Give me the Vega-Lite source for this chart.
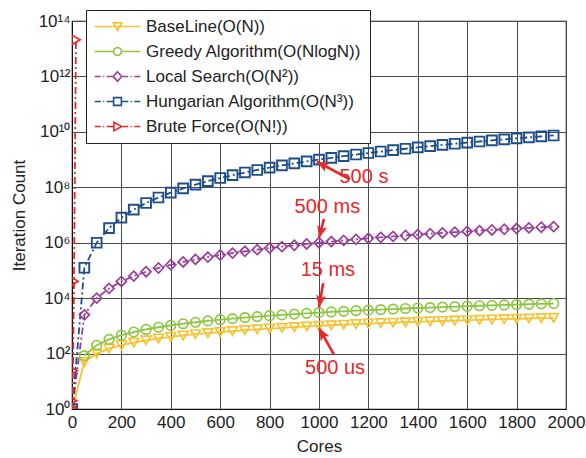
{
  "$schema": "https://vega.github.io/schema/vega-lite/v6.json",
  "width": 494,
  "height": 388,
  "autosize": "none",
  "padding": {"left": 72, "top": 21, "right": 20, "bottom": 49},
  "background": "white",
  "config": {
    "font": "Liberation Sans",
    "view": {"stroke": "#111", "strokeWidth": 1.2},
    "axis": {
      "labelFont": "Liberation Sans", "labelFontSize": 17, "labelColor": "#222",
      "titleFont": "Liberation Sans", "titleFontSize": 17, "titleFontWeight": "normal", "titleColor": "#222",
      "domainColor": "#111", "gridColor": "#4a4a4a", "gridOpacity": 1, "gridWidth": 1,
      "ticks": false
    },
    "legend": {
      "orient": "none", "legendX": 14, "legendY": -11, "title": null,
      "labelFont": "Liberation Sans", "labelFontSize": 17, "labelColor": "#222", "labelLimit": 0,
      "symbolSize": 144, "symbolStrokeWidth": 1.6, "symbolOffset": 15, "labelOffset": 20,
      "symbolOpacity": 1, "symbolFillColor": "transparent", "symbolDash": [1, 0],
      "strokeColor": "#222", "fillColor": "white", "padding": 8, "rowPadding": 7
    }
  },
  "datasets": {
    "arrows": [
      {"label": "500 s", "cores": 1125, "count": 195000000, "cores2": 991, "count2": 840000000},
      {"label": "500 ms", "cores": 1020, "count": 7200000, "cores2": 1000, "count2": 1480000},
      {"label": "15 ms", "cores": 1017, "count": 34400, "cores2": 1000, "count2": 4680},
      {"label": "500 us", "cores": 1061, "count": 89, "cores2": 1001, "count2": 817}
    ]
  },
  "data": {"values": [
    {"alg": "BaseLine(O(N))", "cores": 1, "count": 1},
    {"alg": "BaseLine(O(N))", "cores": 50, "count": 50},
    {"alg": "BaseLine(O(N))", "cores": 100, "count": 100},
    {"alg": "BaseLine(O(N))", "cores": 150, "count": 150},
    {"alg": "BaseLine(O(N))", "cores": 200, "count": 200},
    {"alg": "BaseLine(O(N))", "cores": 250, "count": 250},
    {"alg": "BaseLine(O(N))", "cores": 300, "count": 300},
    {"alg": "BaseLine(O(N))", "cores": 350, "count": 350},
    {"alg": "BaseLine(O(N))", "cores": 400, "count": 400},
    {"alg": "BaseLine(O(N))", "cores": 450, "count": 450},
    {"alg": "BaseLine(O(N))", "cores": 500, "count": 500},
    {"alg": "BaseLine(O(N))", "cores": 550, "count": 550},
    {"alg": "BaseLine(O(N))", "cores": 600, "count": 600},
    {"alg": "BaseLine(O(N))", "cores": 650, "count": 650},
    {"alg": "BaseLine(O(N))", "cores": 700, "count": 700},
    {"alg": "BaseLine(O(N))", "cores": 750, "count": 750},
    {"alg": "BaseLine(O(N))", "cores": 800, "count": 800},
    {"alg": "BaseLine(O(N))", "cores": 850, "count": 850},
    {"alg": "BaseLine(O(N))", "cores": 900, "count": 900},
    {"alg": "BaseLine(O(N))", "cores": 950, "count": 950},
    {"alg": "BaseLine(O(N))", "cores": 1000, "count": 1000},
    {"alg": "BaseLine(O(N))", "cores": 1050, "count": 1050},
    {"alg": "BaseLine(O(N))", "cores": 1100, "count": 1100},
    {"alg": "BaseLine(O(N))", "cores": 1150, "count": 1150},
    {"alg": "BaseLine(O(N))", "cores": 1200, "count": 1200},
    {"alg": "BaseLine(O(N))", "cores": 1250, "count": 1250},
    {"alg": "BaseLine(O(N))", "cores": 1300, "count": 1300},
    {"alg": "BaseLine(O(N))", "cores": 1350, "count": 1350},
    {"alg": "BaseLine(O(N))", "cores": 1400, "count": 1400},
    {"alg": "BaseLine(O(N))", "cores": 1450, "count": 1450},
    {"alg": "BaseLine(O(N))", "cores": 1500, "count": 1500},
    {"alg": "BaseLine(O(N))", "cores": 1550, "count": 1550},
    {"alg": "BaseLine(O(N))", "cores": 1600, "count": 1600},
    {"alg": "BaseLine(O(N))", "cores": 1650, "count": 1650},
    {"alg": "BaseLine(O(N))", "cores": 1700, "count": 1700},
    {"alg": "BaseLine(O(N))", "cores": 1750, "count": 1750},
    {"alg": "BaseLine(O(N))", "cores": 1800, "count": 1800},
    {"alg": "BaseLine(O(N))", "cores": 1850, "count": 1850},
    {"alg": "BaseLine(O(N))", "cores": 1900, "count": 1900},
    {"alg": "BaseLine(O(N))", "cores": 1950, "count": 1950},
    {"alg": "Greedy Algorithm(O(NlogN))", "cores": 50, "count": 84.95},
    {"alg": "Greedy Algorithm(O(NlogN))", "cores": 100, "count": 200},
    {"alg": "Greedy Algorithm(O(NlogN))", "cores": 150, "count": 326.4},
    {"alg": "Greedy Algorithm(O(NlogN))", "cores": 200, "count": 460.2},
    {"alg": "Greedy Algorithm(O(NlogN))", "cores": 250, "count": 599.5},
    {"alg": "Greedy Algorithm(O(NlogN))", "cores": 300, "count": 743.1},
    {"alg": "Greedy Algorithm(O(NlogN))", "cores": 350, "count": 890.4},
    {"alg": "Greedy Algorithm(O(NlogN))", "cores": 400, "count": 1040.8},
    {"alg": "Greedy Algorithm(O(NlogN))", "cores": 450, "count": 1193.9},
    {"alg": "Greedy Algorithm(O(NlogN))", "cores": 500, "count": 1349.5},
    {"alg": "Greedy Algorithm(O(NlogN))", "cores": 550, "count": 1507.2},
    {"alg": "Greedy Algorithm(O(NlogN))", "cores": 600, "count": 1666.9},
    {"alg": "Greedy Algorithm(O(NlogN))", "cores": 650, "count": 1828.4},
    {"alg": "Greedy Algorithm(O(NlogN))", "cores": 700, "count": 1991.6},
    {"alg": "Greedy Algorithm(O(NlogN))", "cores": 750, "count": 2156.3},
    {"alg": "Greedy Algorithm(O(NlogN))", "cores": 800, "count": 2322.5},
    {"alg": "Greedy Algorithm(O(NlogN))", "cores": 850, "count": 2490.0},
    {"alg": "Greedy Algorithm(O(NlogN))", "cores": 900, "count": 2658.8},
    {"alg": "Greedy Algorithm(O(NlogN))", "cores": 950, "count": 2828.8},
    {"alg": "Greedy Algorithm(O(NlogN))", "cores": 1000, "count": 3000},
    {"alg": "Greedy Algorithm(O(NlogN))", "cores": 1050, "count": 3172.3},
    {"alg": "Greedy Algorithm(O(NlogN))", "cores": 1100, "count": 3345.5},
    {"alg": "Greedy Algorithm(O(NlogN))", "cores": 1150, "count": 3519.8},
    {"alg": "Greedy Algorithm(O(NlogN))", "cores": 1200, "count": 3695.0},
    {"alg": "Greedy Algorithm(O(NlogN))", "cores": 1250, "count": 3871.1},
    {"alg": "Greedy Algorithm(O(NlogN))", "cores": 1300, "count": 4048.1},
    {"alg": "Greedy Algorithm(O(NlogN))", "cores": 1350, "count": 4226.0},
    {"alg": "Greedy Algorithm(O(NlogN))", "cores": 1400, "count": 4404.6},
    {"alg": "Greedy Algorithm(O(NlogN))", "cores": 1450, "count": 4584.0},
    {"alg": "Greedy Algorithm(O(NlogN))", "cores": 1500, "count": 4764.1},
    {"alg": "Greedy Algorithm(O(NlogN))", "cores": 1550, "count": 4945.0},
    {"alg": "Greedy Algorithm(O(NlogN))", "cores": 1600, "count": 5126.6},
    {"alg": "Greedy Algorithm(O(NlogN))", "cores": 1650, "count": 5308.8},
    {"alg": "Greedy Algorithm(O(NlogN))", "cores": 1700, "count": 5491.8},
    {"alg": "Greedy Algorithm(O(NlogN))", "cores": 1750, "count": 5675.3},
    {"alg": "Greedy Algorithm(O(NlogN))", "cores": 1800, "count": 5859.5},
    {"alg": "Greedy Algorithm(O(NlogN))", "cores": 1850, "count": 6044.3},
    {"alg": "Greedy Algorithm(O(NlogN))", "cores": 1900, "count": 6229.6},
    {"alg": "Greedy Algorithm(O(NlogN))", "cores": 1950, "count": 6415.6},
    {"alg": "Local Search(O(N²))", "cores": 1, "count": 1},
    {"alg": "Local Search(O(N²))", "cores": 50, "count": 2500},
    {"alg": "Local Search(O(N²))", "cores": 100, "count": 10000},
    {"alg": "Local Search(O(N²))", "cores": 150, "count": 22500},
    {"alg": "Local Search(O(N²))", "cores": 200, "count": 40000},
    {"alg": "Local Search(O(N²))", "cores": 250, "count": 62500},
    {"alg": "Local Search(O(N²))", "cores": 300, "count": 90000},
    {"alg": "Local Search(O(N²))", "cores": 350, "count": 122500},
    {"alg": "Local Search(O(N²))", "cores": 400, "count": 160000},
    {"alg": "Local Search(O(N²))", "cores": 450, "count": 202500},
    {"alg": "Local Search(O(N²))", "cores": 500, "count": 250000},
    {"alg": "Local Search(O(N²))", "cores": 550, "count": 302500},
    {"alg": "Local Search(O(N²))", "cores": 600, "count": 360000},
    {"alg": "Local Search(O(N²))", "cores": 650, "count": 422500},
    {"alg": "Local Search(O(N²))", "cores": 700, "count": 490000},
    {"alg": "Local Search(O(N²))", "cores": 750, "count": 562500},
    {"alg": "Local Search(O(N²))", "cores": 800, "count": 640000},
    {"alg": "Local Search(O(N²))", "cores": 850, "count": 722500},
    {"alg": "Local Search(O(N²))", "cores": 900, "count": 810000},
    {"alg": "Local Search(O(N²))", "cores": 950, "count": 902500},
    {"alg": "Local Search(O(N²))", "cores": 1000, "count": 1000000},
    {"alg": "Local Search(O(N²))", "cores": 1050, "count": 1102500},
    {"alg": "Local Search(O(N²))", "cores": 1100, "count": 1210000},
    {"alg": "Local Search(O(N²))", "cores": 1150, "count": 1322500},
    {"alg": "Local Search(O(N²))", "cores": 1200, "count": 1440000},
    {"alg": "Local Search(O(N²))", "cores": 1250, "count": 1562500},
    {"alg": "Local Search(O(N²))", "cores": 1300, "count": 1690000},
    {"alg": "Local Search(O(N²))", "cores": 1350, "count": 1822500},
    {"alg": "Local Search(O(N²))", "cores": 1400, "count": 1960000},
    {"alg": "Local Search(O(N²))", "cores": 1450, "count": 2102500},
    {"alg": "Local Search(O(N²))", "cores": 1500, "count": 2250000},
    {"alg": "Local Search(O(N²))", "cores": 1550, "count": 2402500},
    {"alg": "Local Search(O(N²))", "cores": 1600, "count": 2560000},
    {"alg": "Local Search(O(N²))", "cores": 1650, "count": 2722500},
    {"alg": "Local Search(O(N²))", "cores": 1700, "count": 2890000},
    {"alg": "Local Search(O(N²))", "cores": 1750, "count": 3062500},
    {"alg": "Local Search(O(N²))", "cores": 1800, "count": 3240000},
    {"alg": "Local Search(O(N²))", "cores": 1850, "count": 3422500},
    {"alg": "Local Search(O(N²))", "cores": 1900, "count": 3610000},
    {"alg": "Local Search(O(N²))", "cores": 1950, "count": 3802500},
    {"alg": "Hungarian Algorithm(O(N³))", "cores": 1, "count": 1},
    {"alg": "Hungarian Algorithm(O(N³))", "cores": 50, "count": 125000},
    {"alg": "Hungarian Algorithm(O(N³))", "cores": 100, "count": 1000000},
    {"alg": "Hungarian Algorithm(O(N³))", "cores": 150, "count": 3375000},
    {"alg": "Hungarian Algorithm(O(N³))", "cores": 200, "count": 8000000},
    {"alg": "Hungarian Algorithm(O(N³))", "cores": 250, "count": 15625000},
    {"alg": "Hungarian Algorithm(O(N³))", "cores": 300, "count": 27000000},
    {"alg": "Hungarian Algorithm(O(N³))", "cores": 350, "count": 42875000},
    {"alg": "Hungarian Algorithm(O(N³))", "cores": 400, "count": 64000000},
    {"alg": "Hungarian Algorithm(O(N³))", "cores": 450, "count": 91125000},
    {"alg": "Hungarian Algorithm(O(N³))", "cores": 500, "count": 125000000},
    {"alg": "Hungarian Algorithm(O(N³))", "cores": 550, "count": 166375000},
    {"alg": "Hungarian Algorithm(O(N³))", "cores": 600, "count": 216000000},
    {"alg": "Hungarian Algorithm(O(N³))", "cores": 650, "count": 274625000},
    {"alg": "Hungarian Algorithm(O(N³))", "cores": 700, "count": 343000000},
    {"alg": "Hungarian Algorithm(O(N³))", "cores": 750, "count": 421875000},
    {"alg": "Hungarian Algorithm(O(N³))", "cores": 800, "count": 512000000},
    {"alg": "Hungarian Algorithm(O(N³))", "cores": 850, "count": 614125000},
    {"alg": "Hungarian Algorithm(O(N³))", "cores": 900, "count": 729000000},
    {"alg": "Hungarian Algorithm(O(N³))", "cores": 950, "count": 857375000},
    {"alg": "Hungarian Algorithm(O(N³))", "cores": 1000, "count": 1000000000},
    {"alg": "Hungarian Algorithm(O(N³))", "cores": 1050, "count": 1157625000},
    {"alg": "Hungarian Algorithm(O(N³))", "cores": 1100, "count": 1331000000},
    {"alg": "Hungarian Algorithm(O(N³))", "cores": 1150, "count": 1520875000},
    {"alg": "Hungarian Algorithm(O(N³))", "cores": 1200, "count": 1728000000},
    {"alg": "Hungarian Algorithm(O(N³))", "cores": 1250, "count": 1953125000},
    {"alg": "Hungarian Algorithm(O(N³))", "cores": 1300, "count": 2197000000},
    {"alg": "Hungarian Algorithm(O(N³))", "cores": 1350, "count": 2460375000},
    {"alg": "Hungarian Algorithm(O(N³))", "cores": 1400, "count": 2744000000},
    {"alg": "Hungarian Algorithm(O(N³))", "cores": 1450, "count": 3048625000},
    {"alg": "Hungarian Algorithm(O(N³))", "cores": 1500, "count": 3375000000},
    {"alg": "Hungarian Algorithm(O(N³))", "cores": 1550, "count": 3723875000},
    {"alg": "Hungarian Algorithm(O(N³))", "cores": 1600, "count": 4096000000},
    {"alg": "Hungarian Algorithm(O(N³))", "cores": 1650, "count": 4492125000},
    {"alg": "Hungarian Algorithm(O(N³))", "cores": 1700, "count": 4913000000},
    {"alg": "Hungarian Algorithm(O(N³))", "cores": 1750, "count": 5359375000},
    {"alg": "Hungarian Algorithm(O(N³))", "cores": 1800, "count": 5832000000},
    {"alg": "Hungarian Algorithm(O(N³))", "cores": 1850, "count": 6331625000},
    {"alg": "Hungarian Algorithm(O(N³))", "cores": 1900, "count": 6859000000},
    {"alg": "Hungarian Algorithm(O(N³))", "cores": 1950, "count": 7414875000},
    {"alg": "Brute Force(O(N!))", "cores": 1, "count": 1},
    {"alg": "Brute Force(O(N!))", "cores": 2, "count": 2},
    {"alg": "Brute Force(O(N!))", "cores": 4, "count": 24},
    {"alg": "Brute Force(O(N!))", "cores": 8, "count": 40320},
    {"alg": "Brute Force(O(N!))", "cores": 16, "count": 20922789888000}
  ]},
  "encoding": {
    "x": {"field": "cores", "type": "quantitative",
      "scale": {"domain": [0, 2000], "nice": false},
      "axis": {"values": [0, 200, 400, 600, 800, 1000, 1200, 1400, 1600, 1800, 2000], "format": "d", "title": "Cores", "labelPadding": 5, "titlePadding": 8, "labelFlush": false}},
    "y": {"field": "count", "type": "quantitative",
      "scale": {"type": "log", "domain": [1, 100000000000000], "nice": false},
      "axis": {"values": [1, 100, 10000, 1000000, 100000000, 10000000000, 1000000000000, 100000000000000],
        "labelExpr": "['10⁰','10¹','10²','10³','10⁴','10⁵','10⁶','10⁷','10⁸','10⁹','10¹⁰','10¹¹','10¹²','10¹³','10¹⁴'][round(log(datum.value)/LN10)]",
        "title": "Iteration Count", "labelPadding": 2, "titlePadding": 10, "labelFlush": false}}
  },
  "layer": [
    {
      "mark": {"type": "point", "filled": false, "opacity": 0, "strokeWidth": 1.6},
      "encoding": {
        "color": {"field": "alg", "type": "nominal",
          "scale": {"domain": ["BaseLine(O(N))", "Greedy Algorithm(O(NlogN))", "Local Search(O(N²))", "Hungarian Algorithm(O(N³))", "Brute Force(O(N!))"],
            "range": ["#F6C231", "#8DC63F", "#9C3E9B", "#1D4E89", "#EC2529"]}},
        "shape": {"field": "alg", "type": "nominal",
          "scale": {"domain": ["BaseLine(O(N))", "Greedy Algorithm(O(NlogN))", "Local Search(O(N²))", "Hungarian Algorithm(O(N³))", "Brute Force(O(N!))"],
            "range": [
              "M-3.8,0L3.8,0M-0.7,-0.6L0.7,-0.6L0,0.65Z",
              "M-3.8,0L-0.65,0M0.65,0L3.8,0M0.65,0A0.65,0.65 0 1,1 -0.65,0A0.65,0.65 0 1,1 0.65,0Z",
              "M-3.8,0L-2.8,0M-2.4,0L-2.2,0M-1.8,0L-0.75,0M0.75,0L1.8,0M2.2,0L2.4,0M2.8,0L3.8,0M0,-0.8L0.7,0L0,0.8L-0.7,0Z",
              "M-3.8,0L-2.8,0M-2.4,0L-2.2,0M-1.8,0L-0.65,0M0.65,0L1.8,0M2.2,0L2.4,0M2.8,0L3.8,0M-0.65,-0.65L0.65,-0.65L0.65,0.65L-0.65,0.65Z",
              "M-3.8,0L-2.8,0M-2.4,0L-2.2,0M-1.8,0L-0.6,0M0.7,0L1.8,0M2.2,0L2.4,0M2.8,0L3.8,0M-0.6,-0.7L0.7,0L-0.6,0.7Z"
            ]}}
      }
    },
    {
      "transform": [{"filter": "datum.alg === 'BaseLine(O(N))' || datum.alg === 'Greedy Algorithm(O(NlogN))'"}],
      "mark": {"type": "line", "strokeWidth": 1.8, "clip": true},
      "encoding": {"color": {"field": "alg", "type": "nominal"}}
    },
    {
      "transform": [{"filter": "datum.alg !== 'BaseLine(O(N))' && datum.alg !== 'Greedy Algorithm(O(NlogN))'"}],
      "mark": {"type": "line", "strokeWidth": 1.8, "strokeDash": [7, 3, 2, 3], "clip": true},
      "encoding": {"color": {"field": "alg", "type": "nominal"}}
    },
    {
      "transform": [{"filter": "datum.alg === 'BaseLine(O(N))'"}],
      "mark": {"type": "point", "shape": "triangle-down", "filled": false, "size": 95, "strokeWidth": 1.7, "opacity": 1, "clip": true},
      "encoding": {"color": {"field": "alg", "type": "nominal"}}
    },
    {
      "transform": [{"filter": "datum.alg === 'Greedy Algorithm(O(NlogN))'"}],
      "mark": {"type": "point", "shape": "circle", "filled": false, "size": 90, "strokeWidth": 1.7, "opacity": 1, "clip": true},
      "encoding": {"color": {"field": "alg", "type": "nominal"}}
    },
    {
      "transform": [{"filter": "datum.alg === 'Local Search(O(N²))'"}],
      "mark": {"type": "point", "shape": "diamond", "filled": false, "size": 100, "strokeWidth": 1.7, "opacity": 1, "clip": true},
      "encoding": {"color": {"field": "alg", "type": "nominal"}}
    },
    {
      "transform": [{"filter": "datum.alg === 'Hungarian Algorithm(O(N³))'"}],
      "mark": {"type": "point", "shape": "square", "filled": false, "size": 95, "strokeWidth": 1.9, "opacity": 1, "clip": true},
      "encoding": {"color": {"field": "alg", "type": "nominal"}}
    },
    {
      "transform": [{"filter": "datum.alg === 'Brute Force(O(N!))'"}],
      "mark": {"type": "point", "shape": "triangle-right", "filled": false, "size": 95, "strokeWidth": 1.7, "opacity": 1, "clip": true},
      "encoding": {"color": {"field": "alg", "type": "nominal"}}
    },
    {
      "data": {"name": "arrows"},
      "mark": {"type": "rule", "color": "#EC2529", "strokeWidth": 2.6},
      "encoding": {
        "x": {"field": "cores", "type": "quantitative"},
        "y": {"field": "count", "type": "quantitative"},
        "x2": {"field": "cores2"},
        "y2": {"field": "count2"}
      }
    },
    {
      "data": {"name": "arrows"},
      "transform": [{"filter": "datum.label === '500 s'"}],
      "mark": {"type": "point", "shape": "M0,0L1,2.4L0,1.9L-1,2.4Z", "size": 100, "filled": true, "color": "#EC2529", "opacity": 1, "angle": 298},
      "encoding": {"x": {"field": "cores2", "type": "quantitative"}, "y": {"field": "count2", "type": "quantitative"}}
    },
    {
      "data": {"name": "arrows"},
      "transform": [{"filter": "datum.label === '500 ms'"}],
      "mark": {"type": "point", "shape": "M0,0L1,2.4L0,1.9L-1,2.4Z", "size": 100, "filled": true, "color": "#EC2529", "opacity": 1, "angle": 195},
      "encoding": {"x": {"field": "cores2", "type": "quantitative"}, "y": {"field": "count2", "type": "quantitative"}}
    },
    {
      "data": {"name": "arrows"},
      "transform": [{"filter": "datum.label === '15 ms'"}],
      "mark": {"type": "point", "shape": "M0,0L1,2.4L0,1.9L-1,2.4Z", "size": 100, "filled": true, "color": "#EC2529", "opacity": 1, "angle": 190},
      "encoding": {"x": {"field": "cores2", "type": "quantitative"}, "y": {"field": "count2", "type": "quantitative"}}
    },
    {
      "data": {"name": "arrows"},
      "transform": [{"filter": "datum.label === '500 us'"}],
      "mark": {"type": "point", "shape": "M0,0L1,2.4L0,1.9L-1,2.4Z", "size": 100, "filled": true, "color": "#EC2529", "opacity": 1, "angle": 331},
      "encoding": {"x": {"field": "cores2", "type": "quantitative"}, "y": {"field": "count2", "type": "quantitative"}}
    },
    {
      "data": {"values": [
        {"label": "500 s", "cores": 1182, "count": 236000000},
        {"label": "500 ms", "cores": 1034, "count": 20000000},
        {"label": "15 ms", "cores": 1036, "count": 104000},
        {"label": "500 us", "cores": 1065, "count": 29.4}
      ]},
      "mark": {"type": "text", "font": "Liberation Sans", "fontSize": 20, "color": "#EC2529", "align": "center", "baseline": "middle"},
      "encoding": {
        "x": {"field": "cores", "type": "quantitative"},
        "y": {"field": "count", "type": "quantitative"},
        "text": {"field": "label"}
      }
    }
  ]
}
